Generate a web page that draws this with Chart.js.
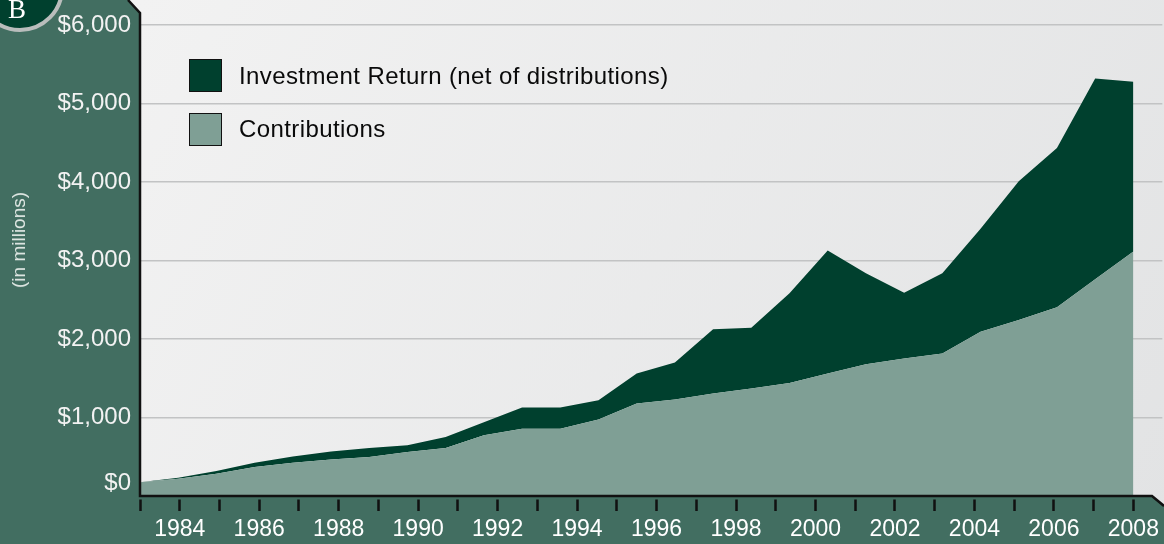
<!DOCTYPE html>
<html>
<head>
<meta charset="utf-8">
<script src="https://cdn.jsdelivr.net/npm/chart.js@4"></script>
<style>
  html, body { margin: 0; padding: 0; background: #426e61; }
  #wrap { position: relative; width: 1164px; height: 544px; overflow: hidden; font-family: "Liberation Sans", Arial, Helvetica, sans-serif; }
  #chart { position: absolute; left: 0; top: 0; }
  .badge { position: absolute; left: -24px; top: -56px; width: 88px; height: 88px; box-sizing: border-box; border-radius: 50%; background: #00402e; border: 4px solid #b9bdbc; }
  .badge-letter { position: absolute; left: 8px; top: -6px; font-family: "Liberation Serif", "Times New Roman", serif; font-size: 27px; color: #fff; }
  .units { position: absolute; left: 19px; top: 240px; transform: translate(-50%, -50%) rotate(-90deg); font-size: 19px; color: #dfe7e3; white-space: nowrap; }
  .key-box { position: absolute; left: 189px; width: 33px; height: 33px; box-sizing: border-box; border: 1.5px solid #111; }
  .key-text { position: absolute; left: 239px; font-size: 24px; line-height: 24px; letter-spacing: 0.4px; color: #0a0a0a; white-space: nowrap; }
</style>
</head>
<body>
<div id="wrap">
  <canvas id="chart" width="1164" height="544"></canvas>
  <div class="badge"></div>
  <div class="badge-letter">B</div>
  <div class="units">(in millions)</div>
  <div class="key-box" style="top:59px;background:#00402e"></div>
  <div class="key-text" style="top:64px">Investment Return (net of distributions)</div>
  <div class="key-box" style="top:113px;background:#7f9f95"></div>
  <div class="key-text" style="top:117px">Contributions</div>
</div>
<script>
// 27 reporting points, evenly spaced from 1983 to 2008 ($ millions)
const contributions = [176, 220, 284, 368, 424, 466, 496, 559, 610, 773, 858, 858, 973, 1178, 1229,
  1305, 1369, 1441, 1561, 1679, 1752, 1816, 2092, 2241, 2404, 2761, 3114];
const investmentReturn = [0, 12, 33, 56, 80, 102, 114, 86, 141, 166, 268, 268, 247, 383, 472,
  818, 774, 1141, 1565, 1159, 838, 1022, 1312, 1767, 2030, 2558, 2163];
const firstYear = 1983;
const lastYear = 2008;
const yTicks = [0, 1000, 2000, 3000, 4000, 5000, 6000];

const DARK = "#00402e";
const LIGHT = "#7f9f95";
const PANEL = "#426e61";
const FONT = "'Liberation Sans', Arial, Helvetica, sans-serif";

// plot runs a little past the last point on the right
const lastIdx = contributions.length - 1;
const overrun = 1024 / 995;

const frame = {
  id: "frame",
  beforeDraw(chart) {
    const { ctx, chartArea: a, width, height } = chart;
    ctx.save();
    ctx.fillStyle = PANEL;
    ctx.fillRect(0, 0, width, height);
    const g = ctx.createLinearGradient(a.left, 0, width, height);
    g.addColorStop(0, "#f2f2f2");
    g.addColorStop(1, "#e2e3e4");
    ctx.fillStyle = g;
    ctx.beginPath();
    ctx.moveTo(a.left - 12, 0);
    ctx.lineTo(width, 0);
    ctx.lineTo(width, a.bottom + 10);
    ctx.lineTo(width - 12, a.bottom);
    ctx.lineTo(a.left, a.bottom);
    ctx.lineTo(a.left, 13);
    ctx.closePath();
    ctx.fill();
    ctx.restore();
  },
  afterDraw(chart) {
    const { ctx, chartArea: a, width } = chart;
    ctx.save();
    // small gap between the axis line and the year tick marks
    ctx.fillStyle = PANEL;
    ctx.fillRect(a.left - 4, a.bottom, width - 12 - a.left + 4, 3.5);
    ctx.strokeStyle = "#111";
    ctx.lineWidth = 2.5;
    ctx.beginPath();
    ctx.moveTo(a.left - 12, 0);
    ctx.lineTo(a.left, 13);
    ctx.lineTo(a.left, a.bottom);
    ctx.lineTo(width - 12, a.bottom);
    ctx.lineTo(width, a.bottom + 10);
    ctx.stroke();
    // the zero label sits just above the axis line
    const y0 = chart.scales.y.getPixelForValue(0);
    ctx.fillStyle = "#f2f2f2";
    ctx.font = "24px " + FONT;
    ctx.textAlign = "right";
    ctx.textBaseline = "middle";
    ctx.fillText("$0", a.left - 9, y0 - 13);
    ctx.restore();
  }
};

new Chart(document.getElementById("chart"), {
  type: "line",
  data: {
    datasets: [
      {
        label: "Contributions",
        data: contributions.map((v, i) => ({ x: i, y: v })),
        xAxisID: "xData",
        backgroundColor: LIGHT,
        borderWidth: 0,
        pointRadius: 0,
        fill: "origin"
      },
      {
        label: "Investment Return (net of distributions)",
        data: investmentReturn.map((v, i) => ({ x: i, y: v })),
        xAxisID: "xData",
        backgroundColor: DARK,
        borderWidth: 0,
        pointRadius: 0,
        fill: "-1"
      }
    ]
  },
  options: {
    responsive: false,
    animation: false,
    layout: { padding: { top: 25, right: 0, left: 0, bottom: 0 } },
    plugins: { legend: { display: false }, tooltip: { enabled: false } },
    scales: {
      xData: {
        type: "linear",
        display: false,
        min: 0,
        max: lastIdx * overrun
      },
      x: {
        type: "linear",
        position: "bottom",
        min: firstYear,
        max: firstYear + (lastYear - firstYear) * overrun,
        afterFit: (s) => { s.height = 48; },
        border: { display: false },
        grid: {
          drawOnChartArea: false,
          drawTicks: true,
          tickLength: 15,
          tickColor: "#111",
          tickWidth: 2.5
        },
        ticks: {
          stepSize: 1,
          includeBounds: false,
          autoSkip: false,
          maxRotation: 0,
          padding: 5,
          color: "#ffffff",
          font: { family: FONT, size: 23 },
          callback: (v) => (v % 2 === 0 ? String(v) : "")
        }
      },
      y: {
        stacked: true,
        min: yTicks[0],
        max: yTicks[yTicks.length - 1],
        afterFit: (s) => { s.width = 140; },
        afterBuildTicks: (s) => { s.ticks = yTicks.map((v) => ({ value: v })); },
        border: { display: false },
        grid: {
          drawTicks: false,
          color: (c) => (c.tick && c.tick.value === 0 ? "rgba(0,0,0,0)" : "#c2c3c4"),
          lineWidth: 1.5
        },
        ticks: {
          padding: 9,
          color: "#f2f2f2",
          font: { family: FONT, size: 24 },
          callback: (v) => (v === 0 ? "" : "$" + v.toLocaleString("en-US"))
        }
      }
    }
  },
  plugins: [frame]
});
</script>
</body>
</html>
